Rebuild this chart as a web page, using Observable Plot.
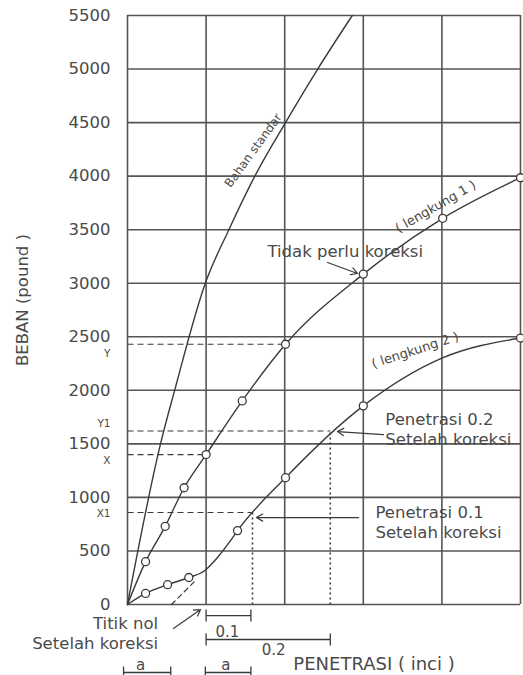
<!DOCTYPE html>
<html><head><meta charset="utf-8">
<script src="https://cdn.jsdelivr.net/npm/d3@7"></script>
<script src="https://cdn.jsdelivr.net/npm/@observablehq/plot@0.6"></script>
<style>html,body{margin:0;padding:0;background:#fff}svg{display:block}</style>
</head><body><div id="chart"></div>
<script>
// ---- data (penetrasi in inci, beban in pound) ----
const yTicks = [0, 500, 1000, 1500, 2000, 2500, 3000, 3500, 4000, 4500, 5000, 5500];
const xGrid = [0, 0.1, 0.2, 0.3, 0.4, 0.5];

const standarX = [0, 0.042, 0.060, 0.099, 0.129, 0.162, 0.201, 0.242, 0.286];
const standarY = [0, 1500, 2000, 3000, 3500, 4000, 4500, 5000, 5500];

const lengkung1X = [0, 0.023, 0.048, 0.072, 0.100, 0.146, 0.201, 0.300, 0.401, 0.500];
const lengkung1Y = [0, 400, 730, 1090, 1400, 1901, 2430, 3085, 3606, 3985];

const lengkung2X = [0, 0.023, 0.051, 0.078, 0.098, 0.1145, 0.131, 0.140, 0.201, 0.300, 0.400, 0.500];
const lengkung2Y = [0, 103, 185, 252, 315, 439, 596, 690, 1184, 1855, 2300, 2488];
const lengkung2DotX = [0.023, 0.051, 0.078, 0.140, 0.201, 0.300, 0.500];
const lengkung2DotY = [103, 185, 252, 690, 1184, 1855, 2488];

const tangentX = [0.056, 0.086];
const tangentY = [0, 220];

const koreksiLabels = ["Y", "Y1", "X", "X1"];
const koreksiY = [2430, 1620, 1400, 859];
const koreksiX = [0.201, 0.258, 0.100, 0.159];
const koreksiLabelY = [2345, 1690, 1345, 850];
const dottedX = [0.258, 0.159];
const dottedTop = [1620, 859];

// annotations (positions in data units)
const notesText = ["Tidak perlu koreksi", "Penetrasi 0.2\nSetelah koreksi", "Penetrasi 0.1\nSetelah koreksi"];
const notesX = [0.178, 0.328, 0.3155];
const notesY = [3306, 1643, 775];

const rotText = ["Bahan standar", "( lengkung 1 )", "( lengkung 2 )"];
const rotX = [0.160, 0.392, 0.366];
const rotY = [4239, 3715, 2375];
const rotAngle = [-54, -30, -18];

const arrowX1 = [0.2545, 0.3257, 0.294, 0.0585];
const arrowY1 = [3194, 1587, 812, -224];
const arrowX2 = [0.2926, 0.267, 0.164, 0.093];
const arrowY2 = [3091, 1615, 812, -47];

const bracketLabels = ["0.1", "0.2", "a", "a"];
const bracketX1 = [0.100, 0.100, -0.005, 0.099];
const bracketX2 = [0.157, 0.258, 0.055, 0.157];
const bracketY = [-103, -327, -635, -635];
const bracketLabelX = [0.127, 0.186, 0.0165, 0.125];
const bracketLabelY = [-261, -430, -570, -570];

const ink = "#3a3a3a";
const grid = "#555";
const txt = "#4a4a4a";
const capH = 56; // half cap height of brackets in pound units

const chart = Plot.plot({
  width: 523, height: 675,
  marginTop: 15, marginBottom: 71, marginLeft: 127, marginRight: 3,
  x: {domain: [0, 0.5], axis: null},
  y: {domain: [0, 5500], axis: null},
  style: {fontFamily: "DejaVu Sans", fontSize: "16px", color: txt, background: "#fff"},
  marks: [
    Plot.ruleX(xGrid, {stroke: grid, strokeWidth: 1.6}),
    Plot.ruleY(yTicks, {stroke: grid, strokeWidth: 1.6}),
    Plot.axisY({ticks: yTicks, tickSize: 0, tickPadding: 17, fontSize: 16.5, fill: txt, label: null, tickFormat: d => String(d)}),
    Plot.text(["BEBAN (pound )"], {frameAnchor: "left", textAnchor: "middle", dx: -105, dy: -10, rotate: -90, fontSize: 16.5, fill: txt}),
    // dashed correction lines
    Plot.link(koreksiY, {x1: 0, x2: koreksiX, y1: koreksiY, y2: koreksiY, stroke: ink, strokeWidth: 1.2, strokeDasharray: "6,4"}),
    Plot.link(dottedX, {x1: dottedX, x2: dottedX, y1: 0, y2: dottedTop, stroke: ink, strokeWidth: 1.6, strokeDasharray: "2,3"}),
    Plot.line(tangentX, {x: tangentX, y: tangentY, stroke: ink, strokeWidth: 1.2, strokeDasharray: "5,4"}),
    Plot.text(koreksiLabels, {x: -0.0216, y: koreksiLabelY, text: d => d, textAnchor: "end", fontSize: 10.5, fill: txt}),
    // curves
    Plot.line(standarX, {x: standarX, y: standarY, curve: "monotone-x", stroke: ink, strokeWidth: 1.4}),
    Plot.line(lengkung1X, {x: lengkung1X, y: lengkung1Y, curve: "monotone-x", stroke: ink, strokeWidth: 1.4}),
    Plot.line(lengkung2X, {x: lengkung2X, y: lengkung2Y, curve: "monotone-x", stroke: ink, strokeWidth: 1.4}),
    Plot.dot(lengkung1X.slice(1), {x: lengkung1X.slice(1), y: lengkung1Y.slice(1), r: 4, fill: "#fff", stroke: ink, strokeWidth: 1.3}),
    Plot.dot(lengkung2DotX, {x: lengkung2DotX, y: lengkung2DotY, r: 4, fill: "#fff", stroke: ink, strokeWidth: 1.3}),
    // annotations
    Plot.text(rotText, {x: rotX, y: rotY, text: d => d, rotate: rotAngle[0], fontSize: 12, fill: txt, filter: (d, i) => i === 0}),
    Plot.text(rotText, {x: rotX, y: rotY, text: d => d, rotate: rotAngle[1], fontSize: 13, fill: txt, filter: (d, i) => i === 1}),
    Plot.text(rotText, {x: rotX, y: rotY, text: d => d, rotate: rotAngle[2], fontSize: 13, fill: txt, filter: (d, i) => i === 2}),
    Plot.text(notesText, {x: notesX, y: notesY, text: d => d, textAnchor: "start", lineAnchor: "middle", lineHeight: 1.2, fontSize: 16.5, fill: txt}),
    Plot.text(["Titik nol\nSetelah koreksi"], {x: 0.039, y: -266, textAnchor: "end", lineAnchor: "middle", lineHeight: 1.2, fontSize: 16.5, fill: txt}),
    Plot.text(["PENETRASI ( inci )"], {x: 0.211, y: -560, textAnchor: "start", fontSize: 18, fill: txt}),
    Plot.arrow(arrowX1, {x1: arrowX1, y1: arrowY1, x2: arrowX2, y2: arrowY2, stroke: ink, strokeWidth: 1.2, headLength: 9}),
    // brackets
    Plot.link(bracketX1, {x1: bracketX1, x2: bracketX2, y1: bracketY, y2: bracketY, stroke: ink, strokeWidth: 1.3}),
    Plot.link(bracketX1, {x1: bracketX1, x2: bracketX1, y1: bracketY.map(v => v - capH), y2: bracketY.map(v => v + capH), stroke: ink, strokeWidth: 1.3}),
    Plot.link(bracketX2, {x1: bracketX2, x2: bracketX2, y1: bracketY.map(v => v - capH), y2: bracketY.map(v => v + capH), stroke: ink, strokeWidth: 1.3}),
    Plot.text(bracketLabels, {x: bracketLabelX, y: bracketLabelY, text: d => d, fontSize: 15, fill: txt})
  ]
});
document.getElementById("chart").appendChild(chart);
</script>
</body></html>
